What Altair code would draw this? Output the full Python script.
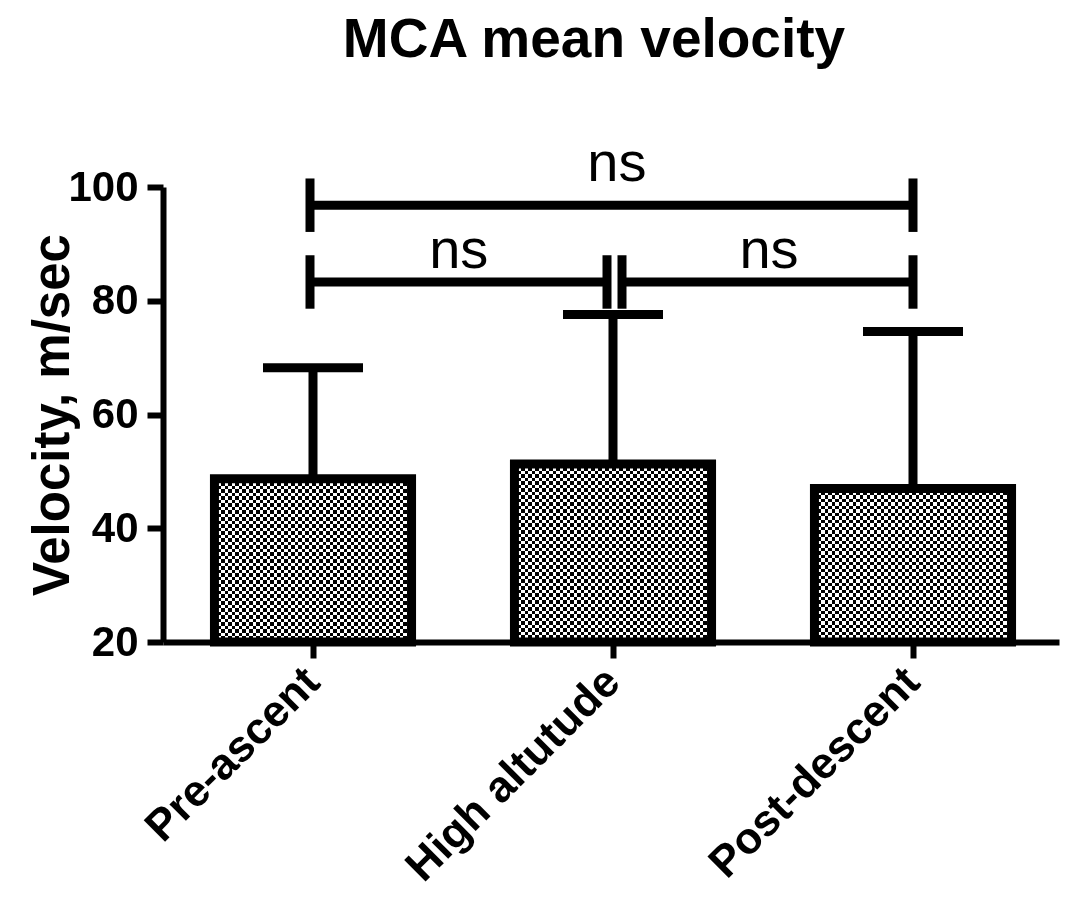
import math
import altair as alt
import pandas as pd

# ---------------- data ----------------
categories = ["Pre-ascent", "High altutude", "Post-descent"]
means = [48.7, 51.3, 47.0]          # bar heights (mean)
uppers = [68.2, 77.6, 74.6]         # mean + SD (error bar top)

# significance brackets (x in category units: category i centre = i + 0.5)
bracket_start = [0.49, 0.49, 1.53]
bracket_end = [2.50, 1.48, 2.50]
bracket_y = [96.8, 83.3, 83.3]
bracket_text = ["ns", "ns", "ns"]
text_x = [1.513, 0.986, 2.02]
text_y = [101.05, 85.8, 85.8]

y_ticks = [20, 40, 60, 80, 100]

# ---------------- style constants ----------------
STEP = 300.0                      # px per category
PLOT_W, PLOT_H = 896, 455
Y_MIN, Y_MAX = 20, 100
PAD_INNER = 0.343
N = len(categories)
PAD_OUTER = (PLOT_W / STEP - N + PAD_INNER) / 2
BAND_W = STEP * (1 - PAD_INNER)
OUTER_SPACE = PLOT_W - STEP * (N - PAD_INNER)
ALIGN = (STEP / 2 - BAND_W / 2) / OUTER_SPACE
CHECK = 3.5          # checker square size, px
LINE_W = 9
TICK_HALF = 4.7      # half length of bracket end ticks (data units)
FONT = "Liberation Sans"

bars_df = pd.DataFrame({"cat": categories, "mean": means, "upper": uppers})
brk_df = pd.DataFrame({"start": bracket_start, "end": bracket_end, "y": bracket_y})
txt_df = pd.DataFrame({"lx": text_x, "ly": text_y, "label": bracket_text})


def stripes(length, first, second):
    n = math.ceil(length / CHECK)
    stops = []
    for k in range(n):
        c = first if k % 2 == 0 else second
        a = min(k * CHECK / length, 1.0)
        b = min((k + 1) * CHECK / length, 1.0)
        stops.append({"offset": a, "color": c})
        stops.append({"offset": b, "color": c})
    return stops


x_band = alt.X(
    "cat:N",
    sort=categories,
    scale=alt.Scale(domain=categories, paddingInner=PAD_INNER,
                    paddingOuter=PAD_OUTER, align=ALIGN),
    axis=alt.Axis(
        title=None,
        labelAngle=-45,
        labelAlign="right",
        labelBaseline="middle",
        labelFont=FONT,
        labelFontSize=44,
        labelFontWeight="bold",
        labelColor="black",
        labelLimit=1000,
        labelOverlap=False,
        labelPadding=17,
        tickSize=16,
        tickWidth=6,
        tickColor="black",
        domainWidth=6,
        domainColor="black",
    ),
)

y_scale = alt.Scale(domain=[Y_MIN, Y_MAX], nice=False, zero=False)
y_axis = alt.Axis(
    title="Velocity, m/sec",
    values=y_ticks,
    grid=False,
    labelFont=FONT,
    labelFontSize=42,
    labelFontWeight="bold",
    labelColor="black",
    labelPadding=9,
    labelFlush=False,
    tickSize=16,
    tickWidth=6,
    tickColor="black",
    domainWidth=6,
    domainColor="black",
    titleFont=FONT,
    titleFontSize=51,
    titleFontWeight="bold",
    titleColor="black",
    titleBaseline="alphabetic",
    titleX=-95,
    titleY=PLOT_H / 2,
)

base = alt.Chart(bars_df)

# vertical stripes
v_fill = {"gradient": "linear", "x1": 0, "y1": 0, "x2": 1, "y2": 0,
          "stops": stripes(BAND_W, "black", "white")}
layer_v = base.mark_bar(fill=v_fill).encode(
    x=x_band,
    y=alt.Y("mean:Q", scale=y_scale, axis=y_axis),
    y2=alt.datum(Y_MIN),
)

# horizontal stripes, blended with "difference" -> checkerboard
h_layers = []
for cat, m in zip(categories, means):
    h = (m - Y_MIN) / (Y_MAX - Y_MIN) * PLOT_H
    h_fill = {"gradient": "linear", "x1": 0, "y1": 0, "x2": 0, "y2": 1,
              "stops": stripes(h, "white", "black")}
    h_layers.append(
        base.transform_filter(alt.datum.cat == cat)
        .mark_bar(fill=h_fill, blend="difference")
        .encode(x=x_band, y=alt.Y("mean:Q", scale=y_scale, axis=y_axis), y2=alt.datum(Y_MIN))
    )

outline = base.mark_bar(fillOpacity=0, stroke="black", strokeWidth=LINE_W).encode(
    x=x_band, y=alt.Y("mean:Q", scale=y_scale, axis=y_axis), y2=alt.datum(Y_MIN)
)

stem = base.mark_rule(color="black", strokeWidth=LINE_W).encode(
    x=x_band, y=alt.Y("mean:Q", scale=y_scale, axis=y_axis), y2="upper:Q"
)
cap = base.mark_tick(color="black", size=100, thickness=LINE_W, opacity=1).encode(
    x=x_band, y=alt.Y("upper:Q", scale=y_scale, axis=y_axis)
)

bars_group = alt.layer(layer_v, *h_layers, outline, stem, cap)

x_q = alt.Scale(domain=[0, PLOT_W / STEP], nice=False, zero=False)
brk_base = alt.Chart(brk_df)
brk_line = brk_base.mark_rule(color="black", strokeWidth=LINE_W).encode(
    x=alt.X("start:Q", scale=x_q, axis=None),
    x2="end:Q",
    y=alt.Y("y:Q", scale=y_scale, axis=y_axis),
)
brk_ends = (
    brk_base.transform_fold(["start", "end"], as_=["side", "xpos"])
    .transform_calculate(ylo=f"datum.y - {TICK_HALF}", yhi=f"datum.y + {TICK_HALF}")
    .mark_rule(color="black", strokeWidth=LINE_W)
    .encode(
        x=alt.X("xpos:Q", scale=x_q, axis=None),
        y=alt.Y("ylo:Q", scale=y_scale, axis=y_axis),
        y2="yhi:Q",
    )
)
ns_text = alt.Chart(txt_df).mark_text(
    font=FONT, fontSize=56, baseline="alphabetic", align="center", color="black"
).encode(
    x=alt.X("lx:Q", scale=x_q, axis=None),
    y=alt.Y("ly:Q", scale=y_scale, axis=y_axis),
    text="label:N",
)
annot_group = alt.layer(brk_line, brk_ends, ns_text)

chart = (
    alt.layer(bars_group, annot_group)
    .resolve_scale(x="independent")
    .properties(
        width=PLOT_W,
        height=PLOT_H,
        padding={"left": 155, "top": 179, "right": 2, "bottom": 250},
        autosize=alt.AutoSizeParams(type="none"),
        title=alt.TitleParams(
            "MCA mean velocity",
            font=FONT,
            fontSize=55,
            fontWeight="bold",
            color="black",
            anchor="middle",
            frame="group",
            dx=-17,
            dy=-67,
            offset=0,
        ),
    )
    .configure_view(stroke="transparent", strokeWidth=0, strokeOpacity=0)
    .configure(background="white", style={"cell": {"stroke": "transparent"}})
)

chart.save("out.html", embed_options={"renderer": "svg", "actions": False})
